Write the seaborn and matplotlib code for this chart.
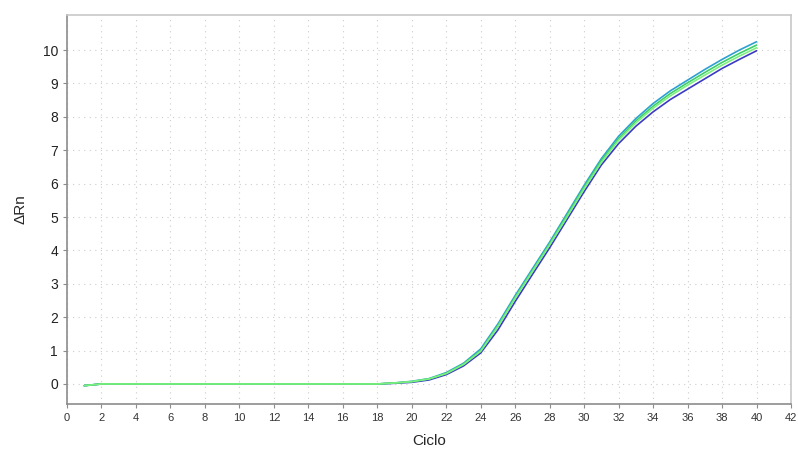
import numpy as np
import pandas as pd
import matplotlib
matplotlib.use("Agg")
import matplotlib.pyplot as plt
import seaborn as sns

# Amplification curves (cycles 1..40)
cycles = list(range(1, 41))

rn_blue = [-0.05, 0.0, 0.0, 0.0, 0.0, 0.0, 0.0, 0.0, 0.0, 0.0,
           0.0, 0.0, 0.0, 0.0, 0.0, 0.0, 0.0, 0.0, 0.02, 0.05,
           0.12, 0.28, 0.54, 0.93, 1.62, 2.47, 3.28, 4.08, 4.92, 5.76,
           6.56, 7.2, 7.72, 8.15, 8.52, 8.83, 9.14, 9.45, 9.72, 9.98]
rn_teal = [-0.05, 0.0, 0.0, 0.0, 0.0, 0.0, 0.0, 0.0, 0.0, 0.0,
           0.0, 0.0, 0.0, 0.0, 0.0, 0.0, 0.0, 0.0, 0.03, 0.08,
           0.16, 0.34, 0.62, 1.05, 1.8, 2.65, 3.45, 4.25, 5.1, 5.95,
           6.75, 7.42, 7.95, 8.4, 8.78, 9.1, 9.42, 9.72, 10.0, 10.25]
rn_green = [-0.05, 0.0, 0.0, 0.0, 0.0, 0.0, 0.0, 0.0, 0.0, 0.0,
            0.0, 0.0, 0.0, 0.0, 0.0, 0.0, 0.0, 0.0, 0.03, 0.07,
            0.15, 0.32, 0.6, 1.0, 1.75, 2.6, 3.4, 4.2, 5.05, 5.9,
            6.7, 7.35, 7.88, 8.32, 8.7, 9.02, 9.33, 9.63, 9.9, 10.15]
rn_lightgreen = [-0.05, 0.0, 0.0, 0.0, 0.0, 0.0, 0.0, 0.0, 0.0, 0.0,
                 0.0, 0.0, 0.0, 0.0, 0.0, 0.0, 0.0, 0.0, 0.03, 0.07,
                 0.15, 0.31, 0.58, 0.98, 1.72, 2.57, 3.37, 4.17, 5.0, 5.85,
                 6.64, 7.3, 7.82, 8.26, 8.63, 8.95, 9.25, 9.55, 9.82, 10.07]

wells = ["A1", "A2", "A3", "A4"]
colors = ["#3a3ac4", "#2f9fd0", "#3ccf6a", "#7cf07c"]

df = pd.concat([
    pd.DataFrame({"Ciclo": cycles, "dRn": vals, "well": w})
    for w, vals in zip(wells, [rn_blue, rn_teal, rn_green, rn_lightgreen])
])

sns.set_style("white")
plt.rcParams["font.family"] = ["Liberation Sans", "DejaVu Sans"]

fig = plt.figure(figsize=(7.98, 4.53), dpi=100)
ax = fig.add_axes([67 / 798, 1 - 404 / 453, 724 / 798, (404 - 14.7) / 453])

sns.lineplot(data=df, x="Ciclo", y="dRn", hue="well", palette=colors,
             linewidth=1.2, legend=False, ax=ax)

ax.set_xlim(0, 42)
ax.set_ylim(-0.6, 11.06)
ax.set_xticks(range(0, 43, 2))
ax.set_yticks(range(0, 11))
ax.grid(True, color="#cccccc", linestyle=(0, (1, 4)), linewidth=0.8)

for side in ["left", "bottom"]:
    ax.spines[side].set_color("#8c8c8c")
for side in ["top", "right"]:
    ax.spines[side].set_color("#c8c8c8")
for sp in ax.spines.values():
    sp.set_linewidth(1.2)

ax.tick_params(axis="x", labelsize=8, colors="#8c8c8c", labelcolor="#333333",
               length=3, direction="out", bottom=True)
ax.tick_params(axis="y", labelsize=10, colors="#8c8c8c", labelcolor="#222222",
               length=3, direction="out", left=True)

ax.set_xlabel("Ciclo", fontsize=11, labelpad=8)
ax.set_ylabel("ΔRn", fontsize=11, labelpad=11)

fig.savefig("out.png", dpi=100)
